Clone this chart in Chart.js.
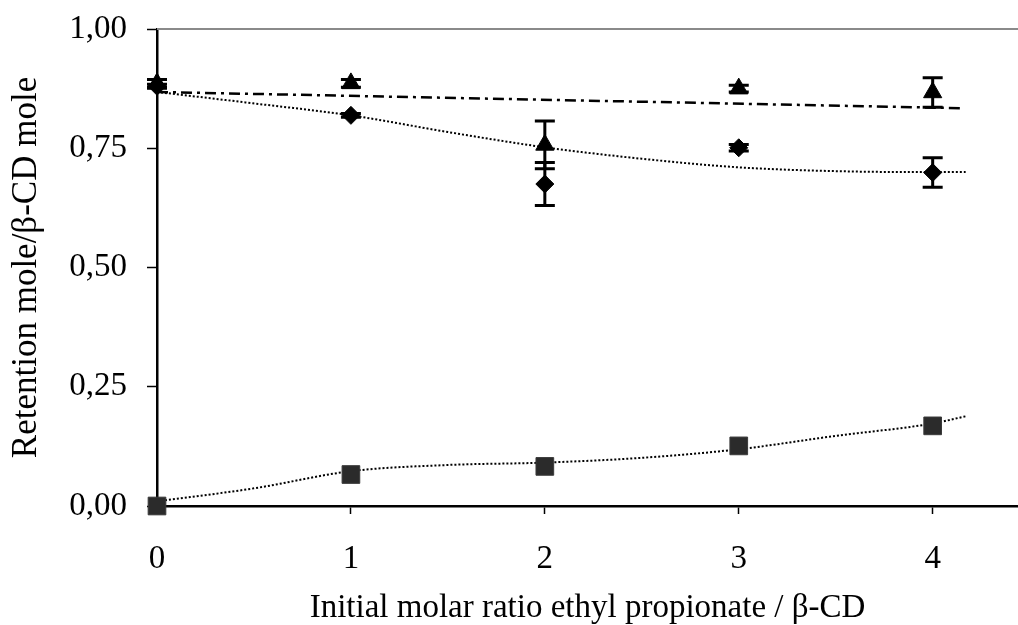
<!DOCTYPE html>
<html>
<head>
<meta charset="utf-8">
<script src="https://cdn.jsdelivr.net/npm/chart.js@4/dist/chart.umd.min.js"></script>
<style>
  html, body { margin: 0; padding: 0; background: #fff; }
  #wrap { width: 1018px; height: 625px; position: relative; }
</style>
</head>
<body>
<div id="wrap"><canvas id="c" width="1018" height="625"></canvas></div>
<script>
// ---- data ----
const ratios = [0, 1, 2, 3, 4];

const triangleValues = [0.886, 0.886, 0.757, 0.875, 0.867];
const triangleErrors = [0.008, 0.008, 0.050, 0.007, 0.031];

const diamondValues = [0.880, 0.819, 0.675, 0.751, 0.699];
const diamondErrors = [0.004, 0.004, 0.045, 0.007, 0.031];

const squareValues = [0.000, 0.066, 0.083, 0.126, 0.168];

const triTrendX = [0, 4.15];
const triTrendY = [0.868, 0.834];

const diaTrendX = [0, 0.5, 1, 1.5, 2, 2.5, 3, 3.5, 4, 4.17];
const diaTrendY = [0.868, 0.844, 0.819, 0.784, 0.752, 0.728, 0.710, 0.702, 0.700, 0.700];

const sqTrendX = [0, 0.5, 1, 1.5, 2, 2.5, 3, 3.5, 4, 4.17];
const sqTrendY = [0.010, 0.037, 0.073, 0.086, 0.091, 0.101, 0.119, 0.147, 0.173, 0.188];

const xTickValues = [0, 1, 2, 3, 4];
const yTickValues = [0, 0.25, 0.5, 0.75, 1];

const xTitle = 'Initial molar ratio ethyl propionate / β-CD';
const yTitle = 'Retention mole/β-CD mole';

// ---- helpers ----
const pts = (xs, ys) => xs.map((x, i) => ({ x: x, y: ys[i] }));

const errorBarPlugin = {
  id: 'errorBars',
  afterDatasetsDraw(chart) {
    const ctx = chart.ctx;
    const xs = chart.scales.x, ys = chart.scales.y;
    const sets = [[triangleValues, triangleErrors], [diamondValues, diamondErrors]];
    ctx.save();
    ctx.strokeStyle = '#000';
    sets.forEach(([vals, errs]) => {
      ratios.forEach((r, i) => {
        const px = xs.getPixelForValue(r);
        const top = ys.getPixelForValue(vals[i] + errs[i]);
        const bot = ys.getPixelForValue(vals[i] - errs[i]);
        ctx.lineWidth = 3;
        ctx.beginPath();
        ctx.moveTo(px, top); ctx.lineTo(px, bot);
        ctx.moveTo(px - 10, top); ctx.lineTo(px + 10, top);
        ctx.moveTo(px - 10, bot); ctx.lineTo(px + 10, bot);
        ctx.stroke();
      });
    });
    ctx.restore();
  }
};

const framePlugin = {
  id: 'frame',
  beforeDatasetsDraw(chart) {
    const { ctx, chartArea } = chart;
    ctx.save();
    ctx.strokeStyle = '#8a8a8a';
    ctx.lineWidth = 2;
    ctx.beginPath();
    ctx.moveTo(chartArea.left, chartArea.top);
    ctx.lineTo(chartArea.right, chartArea.top);
    ctx.stroke();
    ctx.restore();
  }
};

const serif = "'Liberation Serif', 'Times New Roman', serif";

new Chart(document.getElementById('c'), {
  type: 'scatter',
  data: {
    datasets: [
      {
        label: 'triangle trend',
        data: pts(triTrendX, triTrendY),
        showLine: true, pointRadius: 0, borderColor: '#000', borderWidth: 2.5,
        borderDash: [11, 5, 3, 5], fill: false, order: 5, clip: false
      },
      {
        label: 'diamond trend',
        data: pts(diaTrendX, diaTrendY),
        showLine: true, pointRadius: 0, borderColor: '#000', borderWidth: 2,
        borderDash: [2, 2], cubicInterpolationMode: 'monotone', fill: false, order: 5, clip: false
      },
      {
        label: 'square trend',
        data: pts(sqTrendX, sqTrendY),
        showLine: true, pointRadius: 0, borderColor: '#000', borderWidth: 2,
        borderDash: [2, 2], cubicInterpolationMode: 'monotone', fill: false, order: 5, clip: false
      },
      {
        label: 'triangles',
        data: pts(ratios, triangleValues),
        pointStyle: 'triangle', pointRadius: 10.5,
        backgroundColor: '#000', borderColor: '#000', borderWidth: 1, order: 1, clip: false
      },
      {
        label: 'diamonds',
        data: pts(ratios, diamondValues),
        pointStyle: 'rectRot', pointRadius: 9,
        backgroundColor: '#000', borderColor: '#000', borderWidth: 1, order: 2, clip: false
      },
      {
        label: 'squares',
        data: pts(ratios, squareValues),
        pointStyle: 'rect', pointRadius: 12.5,
        backgroundColor: '#2b2b2b', borderColor: '#3a3a3a', borderWidth: 1, order: 3, clip: false
      }
    ]
  },
  options: {
    responsive: false,
    animation: false,
    devicePixelRatio: 1,
    layout: { autoPadding: false, padding: { left: 0, right: 0, top: 29, bottom: 0 } },
    plugins: { legend: { display: false }, tooltip: { enabled: false } },
    scales: {
      x: {
        type: 'linear', min: 0, max: 4.44,
        afterBuildTicks(scale) { scale.ticks = xTickValues.map(v => ({ value: v })); },
        afterFit(scale) { scale.height = 119; scale.paddingLeft = 0; scale.paddingRight = 0; },
        ticks: {
          color: '#000', padding: 26, maxRotation: 0, autoSkip: false,
          font: { family: serif, size: 33 },
          callback: v => String(v)
        },
        grid: { drawOnChartArea: false, drawTicks: true, tickLength: 8, tickColor: '#000', tickWidth: 1.5 },
        border: { color: '#000', width: 2.5 },
        title: {
          display: true, text: xTitle, color: '#000',
          font: { family: serif, size: 33, lineHeight: 1 },
          padding: { top: 0, bottom: 0 }
        }
      },
      y: {
        type: 'linear', min: 0, max: 1,
        afterBuildTicks(scale) { scale.ticks = yTickValues.map(v => ({ value: v })); },
        afterFit(scale) { scale.width = 157; scale.paddingTop = 0; scale.paddingBottom = 0; },
        ticks: {
          color: '#000', padding: 20, autoSkip: false,
          font: { family: serif, size: 33 },
          callback: v => Number(v).toFixed(2).replace('.', ',')
        },
        grid: { drawOnChartArea: false, drawTicks: true, tickLength: 10, tickColor: '#000', tickWidth: 1.5 },
        border: { color: '#000', width: 2.5 },
        title: {
          display: true, text: yTitle, color: '#000',
          font: { family: serif, size: 35, lineHeight: 1 },
          padding: { top: 9, bottom: 0 }
        }
      }
    }
  },
  plugins: [framePlugin, errorBarPlugin]
});
</script>
</body>
</html>
